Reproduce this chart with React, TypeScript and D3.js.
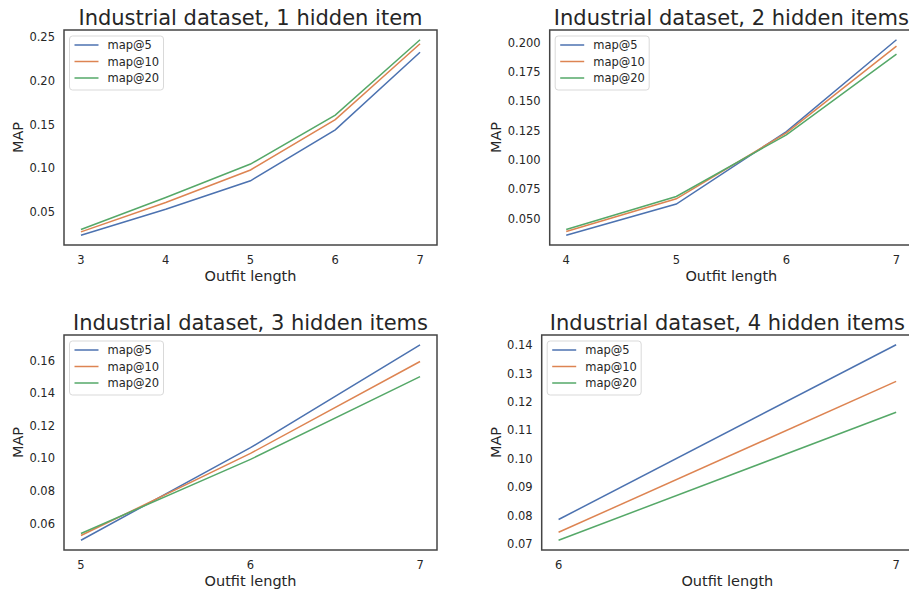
import React from 'react';
import * as d3 from 'd3';

const seriesNames = ['map@5', 'map@10', 'map@20'];
const colors = ['#4c72b0', '#dd8452', '#55a868'];

// panel 1: 1 hidden item
const len1 = [3, 4, 5, 6, 7];
const map5_1 = [0.0232, 0.053, 0.0856, 0.144, 0.233];
const map10_1 = [0.027, 0.0607, 0.098, 0.1557, 0.2427];
const map20_1 = [0.0297, 0.0665, 0.1048, 0.161, 0.2473];
const yTicks1 = [0.05, 0.1, 0.15, 0.2, 0.25];

// panel 2: 2 hidden items
const len2 = [4, 5, 6, 7];
const map5_2 = [0.0357, 0.0623, 0.1242, 0.2026];
const map10_2 = [0.0389, 0.0668, 0.1231, 0.1971];
const map20_2 = [0.0406, 0.0688, 0.1214, 0.1904];
const yTicks2 = [0.05, 0.075, 0.1, 0.125, 0.15, 0.175, 0.2];

// panel 3: 3 hidden items
const len3 = [5, 6, 7];
const map5_3 = [0.0497, 0.1066, 0.1699];
const map10_3 = [0.0526, 0.1031, 0.1596];
const map20_3 = [0.0538, 0.0994, 0.1503];
const yTicks3 = [0.06, 0.08, 0.1, 0.12, 0.14, 0.16];

// panel 4: 4 hidden items
const len4 = [6, 7];
const map5_4 = [0.0786, 0.1402];
const map10_4 = [0.0741, 0.1273];
const map20_4 = [0.0713, 0.1164];
const yTicks4 = [0.07, 0.08, 0.09, 0.1, 0.11, 0.12, 0.13, 0.14];

const FONT = 'DejaVu Sans, sans-serif';
const TEXT = '#262626';

const Panel = ({ title, xs, series, yTicks, yFmt, box, labelOff }) => {
  const [left, top, right, bottom] = box;
  const xMin = d3.min(xs), xMax = d3.max(xs);
  const xPad = (xMax - xMin) * 0.05;
  const x = d3.scaleLinear().domain([xMin - xPad, xMax + xPad]).range([left, right]);
  const all = series.flat();
  const yMin = d3.min(all), yMax = d3.max(all);
  const yPad = (yMax - yMin) * 0.05;
  const y = d3.scaleLinear().domain([yMin - yPad, yMax + yPad]).range([bottom, top]);
  const fmt = d3.format(yFmt);
  const line = d3.line().x((d) => x(d[0])).y((d) => y(d[1]));
  const cx = (left + right) / 2;
  const cy = (top + bottom) / 2;

  return (
    <g fontFamily={FONT} fill={TEXT}>
      <text x={cx} y={top - 5.5} textAnchor="middle" fontSize={21}>{title}</text>
      {series.map((s, i) => (
        <path key={i} d={line(xs.map((v, j) => [v, s[j]]))} fill="none" stroke={colors[i]} strokeWidth={1.5} />
      ))}
      <rect x={left} y={top} width={right - left} height={bottom - top} fill="none" stroke="#444" strokeWidth={1.5} />
      {xs.map((v) => (
        <text key={v} x={x(v)} y={bottom + 18.5} textAnchor="middle" fontSize={11.5}>{v}</text>
      ))}
      {yTicks.map((v) => (
        <text key={v} x={left - 9} y={y(v)} dy="0.35em" textAnchor="end" fontSize={11.5}>{fmt(v)}</text>
      ))}
      <text x={cx} y={bottom + 36} textAnchor="middle" fontSize={14.5}>Outfit length</text>
      <text transform={`translate(${left - labelOff},${cy}) rotate(-90)`} textAnchor="middle" fontSize={14.5}>MAP</text>
      {/* legend */}
      <g transform={`translate(${left + 5.5},${top + 6})`}>
        <rect x={0} y={0} width={94} height={54} rx={3} fill="white" stroke="#d9d9d9" strokeWidth={1} />
        {seriesNames.map((n, i) => (
          <g key={n} transform={`translate(0,${9 + i * 16.5})`}>
            <line x1={5} x2={29} y1={0} y2={0} stroke={colors[i]} strokeWidth={1.5} />
            <text x={38} y={0} dy="0.35em" fontSize={11.5}>{n}</text>
          </g>
        ))}
      </g>
    </g>
  );
};

export default function App() {
  return (
    <svg width={909} height={594} style={{ position: 'absolute', left: 0, top: 0, background: 'white' }}>
      <rect width={909} height={594} fill="white" />
      <Panel title="Industrial dataset, 1 hidden item" xs={len1} series={[map5_1, map10_1, map20_1]}
        yTicks={yTicks1} yFmt=".2f" box={[64, 30, 437, 245]} labelOff={41.5} />
      <Panel title="Industrial dataset, 2 hidden items" xs={len2} series={[map5_2, map10_2, map20_2]}
        yTicks={yTicks2} yFmt=".3f" box={[549.7, 30, 913, 245]} labelOff={49} />
      <Panel title="Industrial dataset, 3 hidden items" xs={len3} series={[map5_3, map10_3, map20_3]}
        yTicks={yTicks3} yFmt=".2f" box={[64, 335, 437, 550]} labelOff={41.5} />
      <Panel title="Industrial dataset, 4 hidden items" xs={len4} series={[map5_4, map10_4, map20_4]}
        yTicks={yTicks4} yFmt=".2f" box={[541.7, 335, 913, 550]} labelOff={41} />
    </svg>
  );
}
